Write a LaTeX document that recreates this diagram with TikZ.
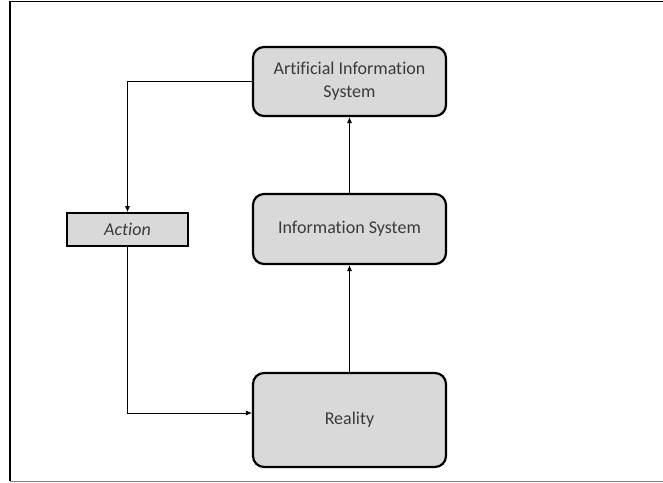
\documentclass[tikz,border=0pt]{standalone}
\usepackage{fontspec}
\setmainfont[Ligatures={NoCommon}]{Carlito}
\usetikzlibrary{arrows.meta}
\definecolor{boxgray}{HTML}{D9D9D9}
\definecolor{txtgray}{HTML}{3A3A3A}
\begin{document}
\begin{tikzpicture}[x=1pt,y=-1pt,
  rbox/.style={draw=black,line width=2.2pt,fill=boxgray,rounded corners=11pt,
    minimum width=193pt,align=center,font=\fontsize{18}{23}\selectfont,text=txtgray,inner sep=0pt},
  abox/.style={draw=black,line width=1.8pt,fill=boxgray,minimum width=121pt,minimum height=33pt,
    font=\fontsize{18}{22}\selectfont\itshape,text=txtgray,inner sep=0pt},
  conn/.style={line width=0.7pt,-{Latex[length=6pt,width=5pt]}}]
\useasboundingbox (0,0) rectangle (663,482);
\draw[line width=1.5pt] (663,1.5) -- (10,1.5) -- (10,481);
\draw[line width=1pt,gray] (10,481) -- (663,481);
\node[rbox,minimum height=69pt] (ais) at (349.5,81.5) {Artificial Information\\System};
\node[rbox,minimum height=70pt] (is) at (349.5,229) {Information System};
\node[rbox,minimum height=94pt] (real) at (349.5,420) {Reality};
\node[abox] (act) at (127.5,229.5) {Action};
\draw[conn] (real.north) -- (is.south);
\draw[conn] (is.north) -- (ais.south);
\draw[conn] (ais.west) -| (act.north);
\draw[conn] (act.south) |- (real.west |- 0,413);
\end{tikzpicture}
\end{document}
